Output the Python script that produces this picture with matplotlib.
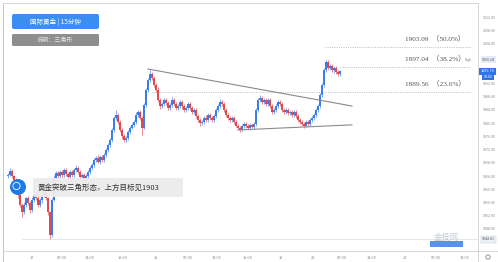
import matplotlib
matplotlib.use('Agg')
import matplotlib.pyplot as plt
from matplotlib.patches import FancyBboxPatch, Circle, Rectangle
import matplotlib.transforms as mtransforms

plt.rcParams['font.family'] = ['Noto Sans CJK SC', 'DejaVu Sans']

# ---------------- data (15-minute gold candles) ----------------
first_open = 1864.0
closes = [
    1864.3, 1865.5, 1864.0, 1862.8, 1861.3, 1858.2, 1855.2, 1853.1, 1855.2, 1857.3,
    1855.8, 1853.7, 1856.7, 1858.2, 1857.3, 1855.2, 1856.7, 1858.2, 1859.2, 1857.3,
    1853.1, 1846.1, 1856.7, 1863.4, 1864.9, 1864.0, 1865.2, 1864.3, 1865.8, 1864.6,
    1863.7, 1865.2, 1864.3, 1865.8, 1866.4, 1865.2, 1863.7, 1864.3, 1862.8, 1864.0,
    1865.2, 1866.4, 1867.3, 1868.9, 1869.5, 1868.3, 1869.8, 1868.9, 1870.4, 1871.9,
    1873.4, 1874.9, 1878.0, 1881.6, 1882.5, 1880.4, 1878.0, 1876.1, 1874.9, 1875.5,
    1877.3, 1878.6, 1879.5, 1880.4, 1882.5, 1883.4, 1881.6, 1878.6, 1885.5, 1890.1,
    1893.1, 1894.9, 1893.7, 1891.6, 1890.1, 1887.0, 1885.2, 1885.8, 1887.0, 1886.1,
    1884.6, 1885.5, 1887.0, 1885.8, 1884.6, 1885.2, 1886.4, 1885.2, 1884.0, 1884.6,
    1885.8, 1884.6, 1883.4, 1884.0, 1882.2, 1881.0, 1880.1, 1880.4, 1881.6, 1881.0,
    1882.5, 1881.6, 1881.0, 1882.2, 1884.0, 1885.2, 1886.4, 1885.8, 1884.0, 1882.5,
    1881.6, 1881.0, 1881.6, 1880.4, 1879.2, 1878.6, 1878.0, 1879.2, 1879.8, 1879.2,
    1878.6, 1879.5, 1878.9, 1879.8, 1884.0, 1887.0, 1887.6, 1886.4, 1887.0, 1885.8,
    1887.0, 1885.2, 1883.4, 1884.0, 1885.2, 1886.4, 1885.8, 1884.0, 1883.4, 1884.0,
    1883.1, 1883.4, 1882.5, 1883.4, 1882.2, 1881.0, 1880.4, 1879.8, 1879.2, 1880.4,
    1879.8, 1881.0, 1881.6, 1882.5, 1884.0, 1885.2, 1888.6, 1891.6, 1896.1, 1898.6,
    1896.7, 1897.3, 1896.1, 1896.7, 1895.5, 1894.9, 1895.76,
]
upper_wick = [
    0.6, 0.8, 0.5, 0.4, 0.6, 0.5, 0.7, 0.6, 0.8, 0.5,
    0.7, 0.5, 0.9, 0.6, 0.5, 0.7, 0.6, 0.5, 0.8, 0.6,
    0.5, 0.4, 0.6, 0.8, 0.6, 0.5, 0.7, 0.6, 0.5, 0.6,
    0.5, 0.6, 0.7, 0.5, 0.9, 0.6, 0.5, 0.6, 0.7, 0.5,
    0.6, 0.5, 0.7, 0.6, 0.5, 0.8, 0.6, 0.5, 0.6, 0.7,
    0.6, 0.5, 0.6, 0.7, 1.5, 0.6, 0.5, 0.6, 0.5, 0.7,
    0.6, 0.5, 0.7, 0.6, 0.9, 0.6, 0.5, 0.6, 0.5, 0.6,
    0.6, 1.2, 0.7, 0.6, 0.5, 0.8, 0.6, 0.5, 0.7, 0.6,
    0.5, 0.6, 0.8, 0.6, 0.5, 0.7, 0.6, 0.5, 0.6, 0.7,
    0.6, 0.5, 0.7, 0.6, 0.5, 0.6, 0.7, 0.5, 0.6, 0.8,
    0.6, 0.5, 0.7, 0.6, 0.5, 0.6, 0.9, 0.6, 0.5, 0.7,
    0.5, 0.6, 0.5, 0.7, 0.6, 0.5, 0.6, 0.5, 0.7, 0.6,
    0.6, 0.5, 0.6, 0.7, 0.5, 0.6, 0.8, 0.6, 0.5, 0.7,
    0.6, 0.5, 0.7, 0.6, 0.5, 0.6, 0.7, 0.5, 0.6, 0.5,
    0.6, 0.7, 0.5, 0.6, 0.5, 0.6, 0.5, 0.7, 0.6, 0.5,
    0.6, 0.5, 0.6, 0.5, 0.6, 0.7, 0.6, 0.5, 0.6, 0.64,
    0.6, 0.5, 0.7, 0.6, 0.5, 0.6, 0.5,
]
lower_wick = [
    0.5, 0.4, 0.7, 0.6, 0.5, 0.8, 0.6, 1.5, 0.5, 0.6,
    0.6, 0.9, 0.5, 0.6, 0.7, 0.5, 0.6, 0.8, 0.5, 0.7,
    0.8, 1.29, 0.5, 0.4, 0.6, 0.5, 0.6, 0.5, 0.7, 0.5,
    0.6, 0.5, 0.6, 0.7, 0.5, 0.6, 0.8, 0.5, 0.6, 0.5,
    0.5, 0.6, 0.5, 0.6, 0.7, 0.5, 0.6, 0.8, 0.5, 0.6,
    0.5, 0.6, 0.5, 0.6, 0.5, 0.7, 0.6, 0.8, 0.6, 0.5,
    0.5, 0.6, 0.5, 0.6, 0.5, 0.7, 0.6, 2.2, 0.5, 0.6,
    0.5, 0.6, 0.7, 0.5, 0.6, 0.5, 0.9, 0.6, 0.5, 0.6,
    0.6, 0.5, 0.6, 0.7, 0.5, 0.6, 0.5, 0.8, 0.6, 0.5,
    0.5, 0.6, 0.5, 0.7, 0.6, 0.5, 0.9, 0.6, 0.5, 0.6,
    0.5, 0.6, 0.5, 0.6, 0.7, 0.5, 0.6, 0.5, 0.6, 0.5,
    0.6, 0.5, 0.7, 0.6, 0.5, 0.8, 0.6, 0.5, 0.6, 0.7,
    0.5, 0.6, 0.5, 0.6, 0.5, 0.7, 0.6, 0.5, 0.6, 0.5,
    0.5, 0.7, 0.6, 0.5, 0.6, 0.5, 0.6, 0.7, 0.5, 0.6,
    0.5, 0.6, 0.6, 0.5, 0.7, 0.6, 0.5, 0.6, 0.8, 0.5,
    0.6, 0.5, 0.6, 0.5, 0.6, 0.5, 0.6, 0.7, 0.5, 0.6,
    0.7, 0.6, 0.5, 0.8, 0.6, 0.5, 0.6,
]

time_tick_pos = [12, 27, 41, 57.5, 74, 90, 104.5, 120, 136.5, 152.5, 167, 182, 198.5, 214, 228.5]
time_tick_labels = ['17', '07:00', '13:00', '19:00', '18', '07:00', '13:00', '19:00',
                    '19', '21', '07:00', '13:00', '22', '07:00', '13:00']
price_ticks = [1848, 1852, 1856, 1860, 1864, 1868, 1872, 1876, 1880, 1884,
               1888, 1892, 1904, 1908, 1912]

tri_upper_x = [70, 172]
tri_upper_p = [1896.4, 1885.2]
tri_lower_x = [115, 172]
tri_lower_p = [1877.95, 1879.5]

fib_values = [1903.09, 1897.04, 1889.56]
fib_pcts = ['50.0%', '38.2%', '23.6%']
fib_start = [158.5, 166, 72]
fib_end = 231
fib_text_x = 198.5

high_value = 1899.24
last_price = 1895.76
low_value = 1844.81

title_text = '国际黄金 | 15分钟'
note_text = '说明：三角形'
comment_text = '黄金突破三角形态，上方目标见1903'

# ---------------- figure ----------------
W, H = 498, 262
fig = plt.figure(figsize=(W / 100, H / 100), dpi=100)
fig.patch.set_facecolor('white')
L, R, T, B = 3, 478, 3, 251
ax = fig.add_axes([L / W, 1 - B / H, (R - L) / W, (B - T) / H])
ax.set_xlim(-2.5, 235)
ax.set_ylim(1841.3, 1916.4)

up_col = '#3a7fe6'
dn_col = '#e04a50'
opens = [first_open] + closes[:-1]
for i, (o, c, uw, lw_) in enumerate(zip(opens, closes, upper_wick, lower_wick)):
    col = up_col if c >= o else dn_col
    hi = max(o, c) + uw
    lo = min(o, c) - lw_
    ax.vlines(i, lo, hi, color=col, lw=0.45, zorder=3)
    h = max(abs(c - o), 0.2)
    ax.bar(i, h, bottom=min(o, c), width=0.7, color=col, linewidth=0, zorder=4)

# triangle
ax.plot(tri_upper_x, tri_upper_p, color='#8a8a8a', lw=0.8, zorder=5)
ax.plot(tri_lower_x, tri_lower_p, color='#8a8a8a', lw=0.8, zorder=5)

# fibonacci levels
for v, pct, s in zip(fib_values, fib_pcts, fib_start):
    ax.hlines(v, s, fib_end, color='#b5b5b5', lw=0.6, linestyles=(0, (1.2, 1.5)), zorder=2)
    ax.annotate(f'{v:.2f}  （{pct}）', xy=(fib_text_x, v), xytext=(0, 6.3),
                textcoords='offset points', ha='left', va='center',
                fontsize=5.2, color='#555555',
                family=['Liberation Serif', 'Noto Sans CJK SC'], zorder=6)

# low level line
ax.hlines(low_value, 7, 235, color='#e2e2e2', lw=0.6, zorder=1)

# axes styling
ax.set_xticks(time_tick_pos)
ax.set_xticklabels(time_tick_labels)
ax.tick_params(axis='x', length=0, labelsize=2.8, colors='#888888', pad=3.5)
ax.yaxis.tick_right()
ax.set_yticks(price_ticks)
ax.set_yticklabels([f'{v:.2f}' for v in price_ticks])
ax.tick_params(axis='y', length=0, labelsize=2.6, colors='#888888', pad=3.5)
for side in ['left', 'right', 'bottom', 'top']:
    ax.spines[side].set_color('#d6d6d6')
    ax.spines[side].set_linewidth(0.7)
ax.spines['left'].set_color('#c8c8c8')

# right-axis price labels
bt = mtransforms.blended_transform_factory(ax.transAxes, ax.transData)
ax.text(0.988, high_value, 'High', transform=bt, ha='right', va='center', fontsize=2.4,
        color='#777777', clip_on=False, zorder=7)
ax.text(1.008, high_value, f'{high_value:.2f}', transform=bt, ha='left', va='center',
        fontsize=2.6, color='#555555', clip_on=False, zorder=7,
        bbox=dict(boxstyle='square,pad=0.35', fc='#e4ecf8', ec='none'))
ax.text(1.006, last_price, f'{last_price:.2f}', transform=bt, ha='left', va='center',
        fontsize=2.8, color='white', clip_on=False, zorder=7,
        bbox=dict(boxstyle='square,pad=0.4', fc='#2f74e8', ec='none'))
ax.annotate('10:00', xy=(1.012, last_price), xycoords=bt, xytext=(0, -4.2),
            textcoords='offset points', ha='left', va='center', fontsize=2.6,
            color='white', annotation_clip=False, zorder=7,
            bbox=dict(boxstyle='square,pad=0.35', fc='#2f74e8', ec='none'))
ax.text(1.008, low_value, f'{low_value:.2f}', transform=bt, ha='left', va='center',
        fontsize=2.6, color='#555555', clip_on=False, zorder=7,
        bbox=dict(boxstyle='square,pad=0.35', fc='#eef2f8', ec='#b8c6dc', lw=0.3))

# ---------------- overlay (pixel coordinates) ----------------
ov = fig.add_axes([0, 0, 1, 1], zorder=5)
ov.set_xlim(0, W)
ov.set_ylim(H, 0)
ov.axis('off')
ov.patch.set_alpha(0)

ov.add_patch(FancyBboxPatch((12, 14), 87, 15, boxstyle='round,pad=0,rounding_size=2',
                            fc='#3b8ef0', ec='none'))
ov.text(55.5, 21.7, title_text, ha='center', va='center', fontsize=4.7, color='white')
ov.add_patch(FancyBboxPatch((12, 34), 87, 12, boxstyle='round,pad=0,rounding_size=1.5',
                            fc='#8e8e8e', ec='none'))
ov.text(55.5, 40.2, note_text, ha='center', va='center', fontsize=4.4, color='#e4e4e4')

ov.add_patch(FancyBboxPatch((33, 178), 150, 19, boxstyle='round,pad=0,rounding_size=2',
                            fc='#ebebeb', ec='none', alpha=0.95))
ov.text(38, 187.8, comment_text, ha='left', va='center', fontsize=5.4, color='#333333')
ov.add_patch(Circle((18, 187), 8, fc='#1f7ae6', ec='none'))
ov.add_patch(Circle((16.5, 186), 3.6, fc='none', ec='white', lw=0.6))

# watermark and bottom-right elements
ov.text(446, 237, '金投网', ha='center', va='center', fontsize=6, color='#9aa7bb', alpha=0.6)
ov.add_patch(Rectangle((430, 241), 33, 6, fc='#3d7ee6', ec='none', alpha=0.85))
ov.plot([478, 498], [251, 251], color='#d6d6d6', lw=0.7)
ov.plot([478, 478], [251, 262], color='#d6d6d6', lw=0.7)
ov.plot([3, 3], [251, 262], color='#c8c8c8', lw=0.7)
ov.add_patch(Circle((488, 257), 2.2, fc='none', ec='#888888', lw=0.6))

fig.savefig('out.png', dpi=100)
